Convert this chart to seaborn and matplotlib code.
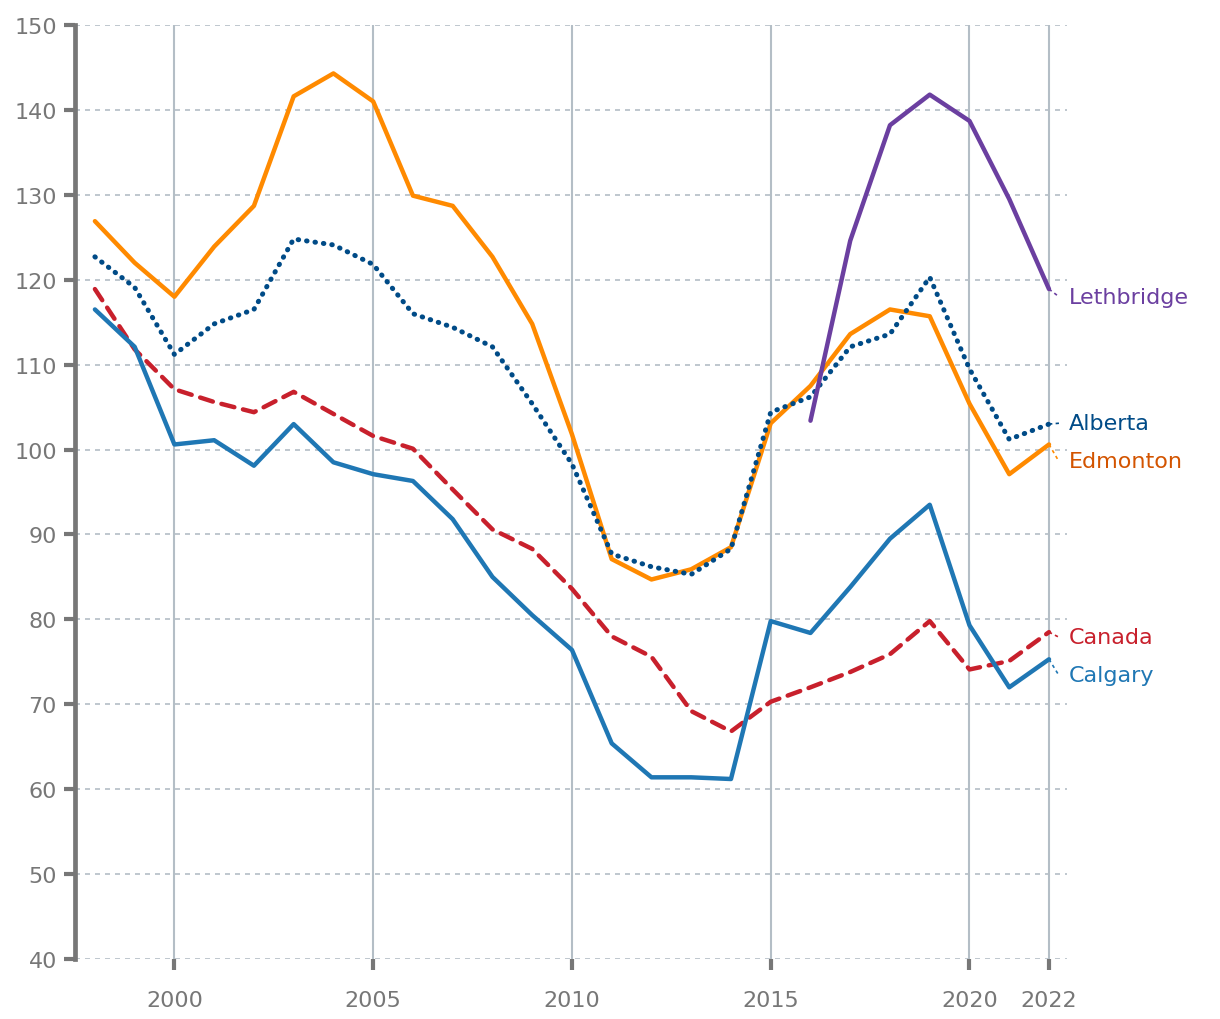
import numpy as np
import pandas as pd
import matplotlib
matplotlib.use("Agg")
import matplotlib.pyplot as plt
import seaborn as sns

years = list(range(1998, 2023))

edmonton = [126.9, 122.0, 118.0, 123.9, 128.7, 141.6, 144.3, 141.0, 129.9, 128.7,
            122.7, 114.8, 101.8, 87.1, 84.7, 85.9, 88.5, 103.1, 107.5, 113.6,
            116.5, 115.7, 105.4, 97.1, 100.6]
alberta = [122.7, 119.1, 111.2, 114.8, 116.5, 124.8, 124.1, 121.8, 116.0, 114.4,
           112.1, 105.4, 98.3, 87.7, 86.2, 85.3, 88.3, 104.4, 106.2, 112.1,
           113.6, 120.3, 109.5, 101.2, 103.0]
canada = [118.9, 111.8, 107.1, 105.6, 104.4, 106.8, 104.2, 101.6, 100.1, 95.3,
          90.6, 88.3, 83.6, 78.0, 75.6, 69.2, 66.8, 70.3, 72.0, 73.8,
          75.9, 79.8, 74.1, 75.1, 78.5]
calgary = [116.5, 112.1, 100.6, 101.1, 98.1, 103.0, 98.5, 97.1, 96.3, 91.8,
           85.0, 80.5, 76.4, 65.4, 61.4, 61.4, 61.2, 79.8, 78.4, 83.8,
           89.5, 93.5, 79.3, 72.0, 75.3]
lethbridge_years = [2016, 2017, 2018, 2019, 2020, 2021, 2022]
lethbridge = [103.4, 124.6, 138.2, 141.8, 138.7, 129.5, 118.9]

x_ticks = [2000, 2005, 2010, 2015, 2020, 2022]
y_ticks = list(range(40, 151, 10))

# series name -> (years, values, line colour, label colour, dashes, label y)
series = {
    "Canada": (years, canada, "#c8202c", "#c8202c", (3, 2), 77.9),
    "Calgary": (years, calgary, "#1f77b4", "#1f77b4", None, 73.4),
    "Edmonton": (years, edmonton, "#ff8a00", "#d35400", None, 98.6),
    "Alberta": (years, alberta, "#004b87", "#004b87", (0.1, 1.6), 103.1),
    "Lethbridge": (lethbridge_years, lethbridge, "#6b3fa0", "#6b3fa0", None, 118.0),
}

sns.set_theme(style="white")
plt.rcParams["font.family"] = ["DejaVu Sans"]

fig = plt.figure(figsize=(12.2, 10.2), dpi=100)
ax = fig.add_axes([0.0615, 0.0588, 0.813, 0.9157])

grid_c = "#b4bec6"
for y in y_ticks:
    ax.axhline(y, color=grid_c, lw=1.2, ls=(0, (3, 3)), zorder=0)
for x in x_ticks:
    ax.axvline(x, color=grid_c, lw=1.5, zorder=0)

for name, (xs, vals, col, lcol, dashes, ly) in series.items():
    df = pd.DataFrame({"year": xs, "value": vals})
    sns.lineplot(data=df, x="year", y="value", ax=ax, color=col, lw=3.2)
    l = ax.lines[-1]
    if dashes is not None:
        l.set_dashes(dashes)
        l.set_dash_capstyle("round")
        if name == "Alberta":
            l.set_linewidth(3.6)
    # short connector to the label
    ax.plot([xs[-1], xs[-1] + 0.25], [vals[-1], ly], color=col, lw=1.2,
            ls=(0, (2, 2)), clip_on=False)
    ax.text(2022.5, ly, name, color=lcol, fontsize=16, va="center", ha="left",
            clip_on=False)

ax.set_xlim(1997.5, 2022.45)
ax.set_ylim(40, 150)
ax.set_xticks(x_ticks)
ax.set_yticks(y_ticks)
ax.set_xlabel("")
ax.set_ylabel("")
ax.tick_params(axis="both", bottom=True, left=True, colors="#777777",
               labelsize=16, width=3, length=8)
ax.tick_params(axis="x", pad=14)
ax.tick_params(axis="y", pad=5)
for s in ["top", "right", "bottom"]:
    ax.spines[s].set_visible(False)
ax.spines["left"].set_color("#777777")
ax.spines["left"].set_linewidth(3.4)

fig.savefig("out.png", dpi=100)
